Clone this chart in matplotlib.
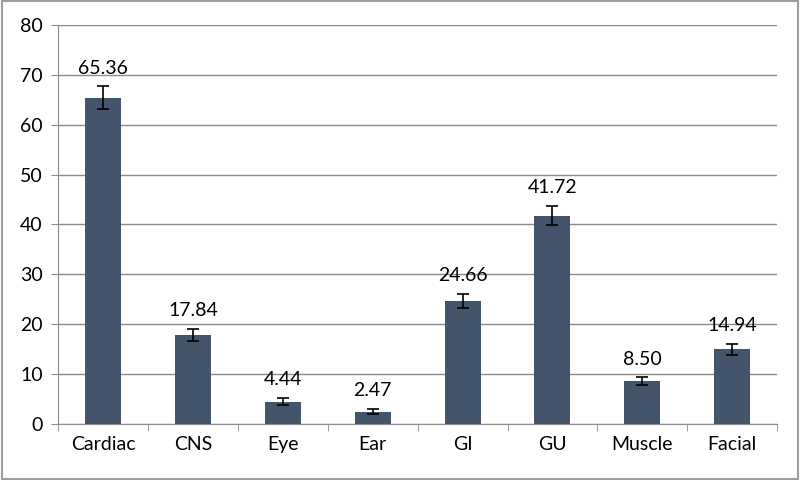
#!/usr/bin/env python3
import matplotlib
matplotlib.use('Agg')
import matplotlib.pyplot as plt
import numpy as np

categories = ['Cardiac', 'CNS', 'Eye', 'Ear', 'GI', 'GU', 'Muscle', 'Facial']
values = [65.36, 17.84, 4.44, 2.47, 24.66, 41.72, 8.50, 14.94]
errors = [2.3, 1.2, 0.7, 0.5, 1.4, 1.9, 0.8, 1.1]

plt.rcParams['font.family'] = ['Lato', 'DejaVu Sans']

fig = plt.figure(figsize=(8, 4.8), dpi=100)
ax = fig.add_axes([0.0725, 0.117, 0.899, 0.831])

x = np.arange(len(categories))
ax.bar(x, values, width=0.4, color='#44546a', zorder=3,
       yerr=errors, capsize=4, error_kw=dict(ecolor='black', elinewidth=1.2, capthick=1.2, zorder=4))

for xi, v, e in zip(x, values, errors):
    ax.text(xi, v + e + 2.6, f'{v:.2f}', ha='center', va='baseline', fontsize=14)

ax.set_xlim(-0.5, len(categories) - 0.5)
ax.set_ylim(0, 80)
ax.set_yticks(range(0, 81, 10))
ax.yaxis.grid(True, color='#8c8c8c', linewidth=1, zorder=0)
ax.set_xticks(x)
ax.set_xticklabels(categories, fontsize=14)
ax.set_xticks(np.arange(-0.5, len(categories)), minor=True)
ax.tick_params(axis='x', which='major', length=0, pad=9)
ax.tick_params(axis='x', which='minor', length=5, color='#8c8c8c')
ax.tick_params(axis='y', length=5, color='#8c8c8c', labelsize=14, pad=6)

for side in ['top', 'right']:
    ax.spines[side].set_visible(False)
ax.spines['left'].set_color('#8c8c8c')
ax.spines['bottom'].set_color('#8c8c8c')

border = plt.Rectangle((0.002, 0.003), 0.996, 0.994, transform=fig.transFigure,
                       fill=False, edgecolor='#a0a0a0', linewidth=1.5)
fig.patches.append(border)

fig.savefig('out.png', dpi=100)
